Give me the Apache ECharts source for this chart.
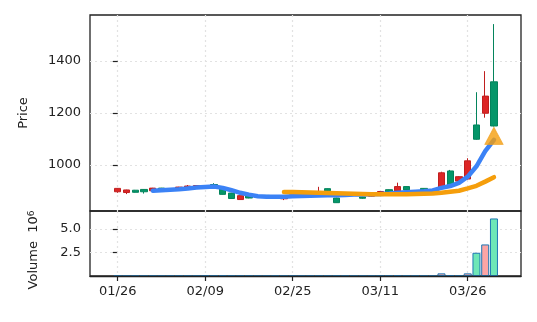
<!DOCTYPE html>
<html><head><meta charset="utf-8">
<script src="https://cdn.jsdelivr.net/npm/echarts@6/dist/echarts.min.js"></script>
<style>html,body{margin:0;padding:0;background:#fff}#c{width:537px;height:322px}</style>
</head><body><div id="c"></div>
<script>
const dates = ['01/26','01/27','01/28','01/29','01/30','02/02','02/03','02/04','02/05','02/06',
  '02/09','02/10','02/11','02/12','02/13','02/18','02/19','02/20','02/23','02/24',
  '02/25','02/26','02/27','03/02','03/03','03/04','03/05','03/06','03/09','03/10',
  '03/11','03/12','03/13','03/16','03/17','03/18','03/19','03/20','03/23','03/24',
  '03/26','03/27','03/30','03/31'];
const opens  = [897,894,903,906,901,911,905,906,909,912, 917,925,909,892,867,886,876,883,882,870,
  880,887,882,893,909,873,880,888,877,880, 890,905,900,917,896,910,905,914,977,938, 946,1154,1199,1320];
const closes = [910,904,895,897,911,905,908,915,919,921, 912,918,887,871,882,873,881,879,879,878,
  885,883,886,898,901,855,887,884,872,886, 898,896,917,904,900,904,902,970,923,955, 1016,1099,1265,1150];
const lows   = [893,888,894,890,899,903,903,904,907,910, 910,915,886,870,866,872,875,877,877,865,
  878,880,880,888,899,854,878,882,870,878, 888,894,898,903,893,903,900,912,920,935, 944,1097,1182,1148];
const highs  = [911,905,904,907,912,912,910,916,923,922, 919,930,910,893,883,887,883,884,883,880,
  888,889,888,916,910,874,889,889,878,888, 900,906,932,918,902,911,907,974,981,957, 1026,1280,1361,1542];
const volumes = [0.02,0.01,0.01,0.01,0.02,0.01,0.01,0.02,0.02,0.02, 0.02,0.03,0.06,0.03,0.02,0.02,0.01,0.01,0.01,0.01,
  0.01,0.01,0.01,0.02,0.02,0.03,0.01,0.01,0.01,0.01, 0.02,0.02,0.06,0.03,0.01,0.02,0.02,0.28,0.08,0.03, 0.28,2.46,3.34,6.09];
const ma5 = [null,null,null,null,901,903,905,907,910,913, 915,917,912,903,893,886,880,878,878,878,
  880,881,882,883,884,884,885,886,886,887, 888,890,893,895,897,899,902,912,919,931, 955,995,1053,1097];
const ma20 = [null,null,null,null,null,null,null,null,null,null, null,null,null,null,null,null,null,null,null,896,
  896,895,894,893.5,892.5,891,890,889,888,887.5, 887,887,887,887.5,888,889,890,893,897,901, 910,920,936,953];
const signalIndex = [43];
const signalPrice = [1112];
const priceTicks = [1000,1200,1400];
const volumeTicks = [2.5,5.0];
const dateTickIndex = [0,10,20,30,40];

const UP = '#dc2626', DOWN = '#059669';
const FONT = 'DejaVu Sans';
const chart = echarts.init(document.getElementById('c'), null, {renderer:'canvas'});
const candleData = dates.map((d,i)=>[i, opens[i], closes[i], lows[i], highs[i]]);
const volData = dates.map((d,i)=>({value:[i, volumes[i]], itemStyle:{color: closes[i] > opens[i] ? '#fca5a5' : '#6ee7b7'}}));
const linePts = arr => arr.map((v,i)=>[i,v]).filter(p=>p[1]!==null);
const gridLine = {show:true, lineStyle:{color:'#e2e2e2', type:[2,3], width:1.2}};
const tickStyle = {color:'#222', width:1.2};
const labelStyle = {fontSize:13, color:'#222', fontFamily:FONT, margin:9};

chart.setOption({
  animation:false,
  backgroundColor:'#fff',
  textStyle:{fontFamily:FONT},
  grid:[
    {left:90, top:15, width:431, height:196, show:true, borderColor:'#222', borderWidth:1.3},
    {left:90, top:211, width:431, height:65, show:true, borderColor:'#222', borderWidth:1.3}
  ],
  xAxis:[
    {type:'value', gridIndex:0, min:-3.17, max:46.09, axisLine:{show:false},
     axisTick:{show:false, customValues:dateTickIndex}, axisLabel:{show:false, customValues:dateTickIndex}, splitLine:gridLine},
    {type:'value', gridIndex:1, min:-3.17, max:46.09, z:5,
     axisLine:{show:true, lineStyle:{color:'#222', width:1.3}},
     axisTick:{show:true, length:5, customValues:dateTickIndex, lineStyle:tickStyle},
     axisLabel:Object.assign({customValues:dateTickIndex, formatter:v=>dates[Math.round(v)]}, labelStyle),
     splitLine:gridLine}
  ],
  yAxis:[
    {type:'value', gridIndex:0, min:823, max:1577, axisLine:{show:false},
     axisTick:{show:true, length:5, customValues:priceTicks, lineStyle:tickStyle},
     axisLabel:Object.assign({customValues:priceTicks, formatter:v=>String(Math.round(v))}, labelStyle),
     splitLine:gridLine,
     name:'Price', nameLocation:'middle', nameGap:60, nameTextStyle:{fontSize:13, color:'#222', fontFamily:FONT}},
    {type:'value', gridIndex:1, min:0, max:6.88, axisLine:{show:false},
     axisTick:{show:true, length:5, customValues:volumeTicks, lineStyle:tickStyle},
     axisLabel:Object.assign({customValues:volumeTicks, formatter:v=>v.toFixed(1)}, labelStyle),
     splitLine:gridLine,
     name:'Volume  10{s|6}', nameLocation:'middle', nameGap:50,
     nameTextStyle:{fontSize:13, color:'#222', fontFamily:FONT, padding:[0,13,0,0],
       rich:{s:{fontSize:9, verticalAlign:'top', color:'#222', fontFamily:FONT}}}}
  ],
  series:[
    {type:'candlestick', xAxisIndex:0, yAxisIndex:0, data:candleData, barWidth:6.6, z:2,
     itemStyle:{color:UP, color0:DOWN, borderColor:'#c01f1f', borderColor0:'#04845c', borderWidth:1}},
    {type:'line', xAxisIndex:0, yAxisIndex:0, data:linePts(ma5), showSymbol:false, symbol:'none', z:3,
     lineStyle:{color:'#3b82f6', width:4.5, cap:'round', join:'round'}},
    {type:'line', xAxisIndex:0, yAxisIndex:0, data:linePts(ma20), showSymbol:false, symbol:'none', z:4,
     lineStyle:{color:'#f59e0b', width:4.5, cap:'round', join:'round'}},
    {type:'scatter', xAxisIndex:0, yAxisIndex:0, data:signalIndex.map((x,k)=>[x, signalPrice[k]]),
     symbol:'triangle', symbolSize:[18,17], z:5, itemStyle:{color:'#f59e0b', borderColor:'#f0a020', borderWidth:1}},
    {type:'bar', xAxisIndex:1, yAxisIndex:1, data:volData, barWidth:8, z:2,
     itemStyle:{borderColor:'#1f77b4', borderWidth:1}}
  ]
});
</script></body></html>
